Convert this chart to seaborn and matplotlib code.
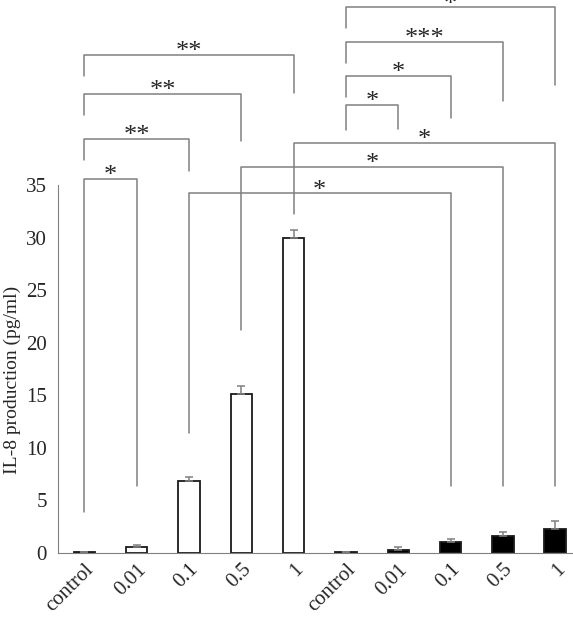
import pandas as pd
import seaborn as sns
import matplotlib.pyplot as plt

# bar data
groups = ['open'] * 5 + ['filled'] * 5
doses = ['control', '0.01', '0.1', '0.5', '1', 'control', '0.01', '0.1', '0.5', '1']
il8 = [0.1, 0.6, 6.85, 15.1, 30.0, 0.05, 0.3, 1.0, 1.65, 2.25]
il8_err = [0.0, 0.13, 0.35, 0.8, 0.7, 0.0, 0.3, 0.3, 0.32, 0.8]

# significance brackets: left bar, right bar, line height, left leg end, right leg end, label
br_left = [0, 0, 0, 0, 5, 5, 5, 5, 4, 3, 2]
br_right = [4, 3, 2, 1, 9, 8, 7, 6, 9, 8, 7]
br_line = [47.4, 43.7, 39.4, 35.6, 51.9, 48.6, 45.4, 42.6, 39.0, 36.7, 34.2]
br_lend = [45.4, 41.7, 37.4, 3.9, 49.9, 46.6, 43.4, 40.2, 32.2, 21.2, 11.4]
br_rend = [43.8, 39.2, 36.3, 6.4, 44.5, 43.0, 41.4, 40.3, 6.4, 6.4, 6.4]
br_text = ['**', '**', '**', '*', '*', '***', '*', '*', '*', '*', '*']

keys = [f'{g}_{d}_{i}' for i, (g, d) in enumerate(zip(groups, doses))]
df = pd.DataFrame({'key': keys, 'group': groups, 'value': il8})

sns.set_style('white')
plt.rcParams['font.family'] = ['Liberation Serif', 'DejaVu Serif']

fig = plt.figure(figsize=(5.73, 6.33), dpi=100)
ax = fig.add_axes([58 / 573, 80 / 633, 515 / 573, 553 / 633])

sns.barplot(
    data=df, x='key', y='value', hue='group', order=keys,
    palette={'open': 'white', 'filled': 'black'},
    edgecolor='#1a1a1a', linewidth=1.3, width=0.41, dodge=False,
    legend=False, ax=ax
)
ax.errorbar(range(len(keys)), il8, yerr=[[0] * len(il8), il8_err],
            fmt='none', ecolor='#808080', elinewidth=1.1, capsize=3, capthick=1.1)

ax.set_xlim(-0.505, 9.34)
ax.set_ylim(0, 52.6)
ax.set_yticks(range(0, 36, 5))
ax.tick_params(axis='y', length=5, width=1, color='#808080', labelsize=15, pad=3)
ax.tick_params(axis='x', length=0, labelsize=15, pad=5)
ax.set_xticks(range(len(keys)))
ax.set_xticklabels(doses, rotation=45, ha='right', rotation_mode='anchor')

sns.despine(ax=ax)
ax.spines['left'].set_bounds(0, 35)
ax.spines['left'].set_color('#808080')
ax.spines['bottom'].set_color('#808080')

ax.set_xlabel('')
ax.set_ylabel('IL-8 production (pg/ml)', fontsize=14)
ax.yaxis.set_label_coords(-0.071, 0.313)

for a, b, h, l1, l2, s in zip(br_left, br_right, br_line, br_lend, br_rend, br_text):
    ax.plot([a, a, b, b], [l1, h, h, l2], color='#808080', lw=1.1, clip_on=False)
    ax.text((a + b) / 2, h - 0.3, s, ha='center', va='baseline',
            fontsize=19, clip_on=False)

fig.savefig('out.png', dpi=100)
